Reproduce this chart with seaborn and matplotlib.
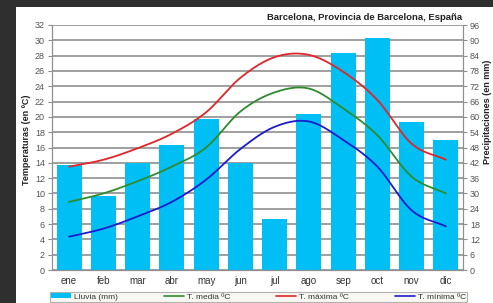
import numpy as np
import matplotlib
matplotlib.use("Agg")  # sin ventanas
import matplotlib.pyplot as plt
import seaborn as sns
from matplotlib.patches import Rectangle, Patch
from matplotlib.lines import Line2D

meses = ["ene", "feb", "mar", "abr", "may", "jun", "jul", "ago", "sep", "oct", "nov", "dic"]
lluvia = [41, 29, 42, 49, 59, 42, 20, 61, 85, 91, 58, 51]
t_media = [8.9, 10.0, 11.6, 13.5, 16.0, 20.7, 23.2, 23.7, 21.1, 17.6, 12.2, 10.0]
t_maxima = [13.5, 14.4, 15.9, 17.8, 20.6, 25.1, 27.8, 28.1, 25.9, 22.2, 16.5, 14.4]
t_minima = [4.35, 5.4, 7.0, 8.9, 11.8, 15.8, 18.7, 19.4, 17.0, 13.5, 7.8, 5.7]

titulo = "Barcelona, Provincia de Barcelona, España"


def suavizar(y, n=24):
    # curva tipo Catmull-Rom, como las líneas suavizadas de Excel
    y = np.asarray(y, dtype=float)
    p = np.concatenate([[2 * y[0] - y[1]], y, [2 * y[-1] - y[-2]]])
    xs, ys = [], []
    t = np.linspace(0, 1, n, endpoint=False)
    for i in range(1, len(p) - 2):
        p0, p1, p2, p3 = p[i - 1], p[i], p[i + 1], p[i + 2]
        c = 0.5 * ((2 * p1) + (-p0 + p2) * t + (2 * p0 - 5 * p1 + 4 * p2 - p3) * t ** 2
                   + (-p0 + 3 * p1 - 3 * p2 + p3) * t ** 3)
        xs.append(i - 1 + t)
        ys.append(c)
    xs.append([len(y) - 1])
    ys.append([y[-1]])
    return np.concatenate(xs), np.concatenate(ys)


sns.set_style("white")
plt.rcParams["font.family"] = ["Liberation Sans", "DejaVu Sans"]

fig = plt.figure(figsize=(4.93, 3.03), dpi=100)
fig.patch.set_facecolor("#2f2f2f")
fig.patches.append(Rectangle((16 / 493, 0), 1, 1 - 7 / 303, transform=fig.transFigure,
                             facecolor="white", edgecolor="none", zorder=-10))

ax = fig.add_axes([52 / 493, 1 - 270 / 303, 411 / 493, 245 / 303])
ax.set_facecolor("none")
gris = "#8f8f8f"
celeste = "#00bff5"

# barras de precipitación (eje derecho)
sns.barplot(x=meses, y=lluvia, ax=ax, color=celeste, saturation=1, width=0.73,
            edgecolor="none", linewidth=0, zorder=2)
ax.set_ylim(0, 96)
ax.set_yticks(range(0, 97, 6))
ax.grid(axis="y", color=gris, lw=1.2, zorder=0)
ax.set_axisbelow(True)
ax.set_xlim(-0.5, 11.5)
ax.set_xlabel("")
ax.set_ylabel("")

# temperaturas (eje izquierdo)
ax2 = ax.twinx()
ax.yaxis.tick_right()
ax2.yaxis.tick_left()
ax2.set_ylim(0, 32)
ax2.set_yticks(range(0, 33, 2))
for serie, col in [(t_maxima, "#e0262a"), (t_media, "#2e8b2e"), (t_minima, "#1c1ccc")]:
    xs, ys = suavizar(serie)
    sns.lineplot(x=xs, y=ys, ax=ax2, color=col, lw=1.3, sort=False)
ax2.set_ylabel("")

for a in (ax, ax2):
    for s in a.spines.values():
        s.set_color(gris)
    a.spines["top"].set_visible(False)
    a.tick_params(axis="y", length=3, color=gris, labelsize=6.5, labelcolor="#555555", pad=2)

ax.tick_params(axis="x", length=0, labelsize=7, labelcolor="#333333", pad=4)
ax.set_xticks(np.arange(0.5, 11, 1), minor=True)
ax.tick_params(axis="x", which="minor", length=3, direction="inout", color=gris)
ax2.tick_params(axis="x", length=0)

fig.text(27 / 493, 1 - 140 / 303, "Temperaturas (en ºC)", rotation=90, ha="center", va="center",
         fontsize=6.5, fontweight="bold", color="#222222")
fig.text(487 / 493, 1 - 112 / 303, "Precipitaciones (en mm)", rotation=90, ha="center", va="center",
         fontsize=6.5, fontweight="bold", color="#222222")
fig.text(462 / 493, 1 - 17 / 303, titulo, ha="right", va="center",
         fontsize=6.8, fontweight="bold", color="#222222")

handles = [Patch(facecolor=celeste, edgecolor="none"),
           Line2D([], [], color="#2e8b2e", lw=1.2),
           Line2D([], [], color="#e0262a", lw=1.2),
           Line2D([], [], color="#1c1ccc", lw=1.2)]
labels = ["Lluvia (mm)", "T. media ºC", "T. máxima ºC", "T. mínima ºC"]
leg = fig.legend(handles, labels, loc="lower left", ncol=4, mode="expand",
                 bbox_to_anchor=(50 / 493, 1 / 303, 417 / 493, 12 / 303),
                 fontsize=6, frameon=True, fancybox=False, borderpad=0.15,
                 handlelength=2.4, handleheight=0.6, handletextpad=0.3, borderaxespad=0)
leg.get_frame().set_facecolor("#f8f5ef")
leg.get_frame().set_edgecolor("#a0a0a0")
leg.get_frame().set_linewidth(0.8)
for t in leg.get_texts():
    t.set_color("#333333")

fig.savefig("out.png", dpi=100, facecolor=fig.get_facecolor())
